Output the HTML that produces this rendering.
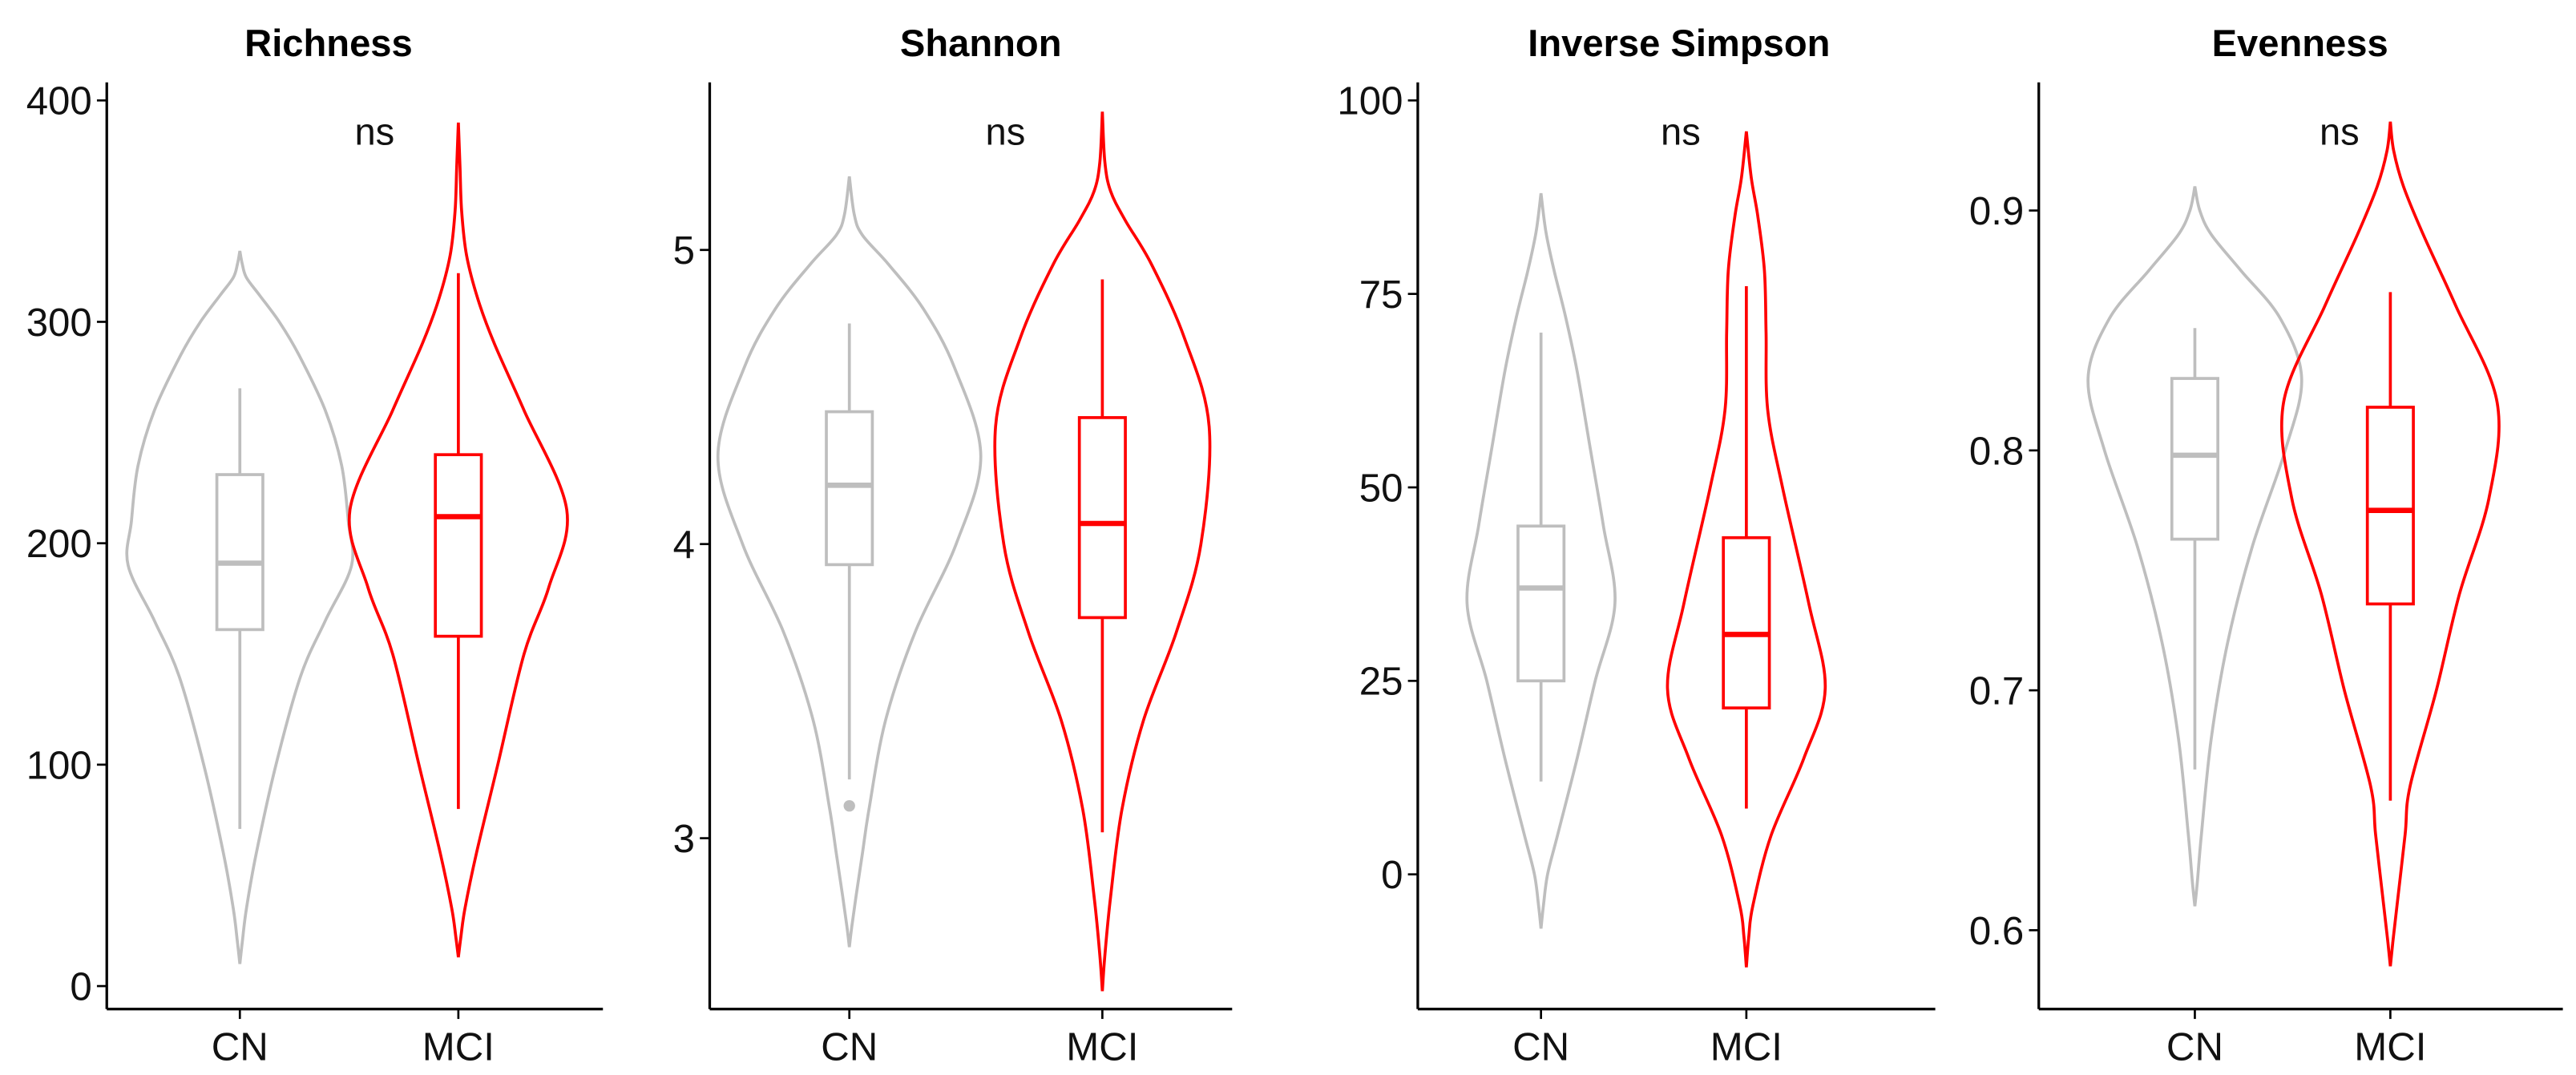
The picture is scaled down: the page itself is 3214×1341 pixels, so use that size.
<!DOCTYPE html>
<html><head><meta charset="utf-8"><style>
html,body{margin:0;padding:0;background:#fff}
svg{display:block}
text{font-family:"Liberation Sans",Arial,sans-serif}
</style></head><body>
<svg id="chart" width="3214" height="1341" viewBox="0 0 1568 654" xmlns="http://www.w3.org/2000/svg"></svg>
<script>
const panelTitles=["Richness","Shannon","Inverse Simpson","Evenness"];
const groups=["CN","MCI"];
const yTicks=[[0,100,200,300,400],[3,4,5],[0,25,50,75,100],[0.6,0.7,0.8,0.9]];
const tickLabels=[["0","100","200","300","400"],["3","4","5"],["0","25","50","75","100"],["0.6","0.7","0.8","0.9"]];
// violin densities: [value, relative width]
const violinCN=[
 [[10,0],[20,1.5],[35,4],[60,10],[100,22],[140,37],[165,52],[190,68],[210,66],[235,62],[260,52],[285,36],[300,24],[312,12],[320,4],[326,1.5],[332,0]],
 [[2.63,0],[2.7,1.5],[2.8,4],[2.95,8],[3.1,12],[3.4,22],[3.7,40],[4.0,65],[4.3,80],[4.6,64],[4.8,45],[4.95,24],[5.05,8],[5.12,3],[5.25,0]],
 [[-7,0],[-4,1.5],[0,4],[5,10],[15,22],[25,33],[35,45],[45,38],[55,30],[65,22],[72,15],[78,8],[83,3],[88,0]],
 [[0.61,0],[0.62,1.5],[0.64,4],[0.68,10],[0.72,20],[0.76,35],[0.80,55],[0.83,65],[0.855,52],[0.875,28],[0.89,10],[0.9,3],[0.91,0]]];
const violinMCI=[
 [[13,0],[22,1.5],[35,4],[60,11],[100,24],[150,40],[180,55],[215,66],[260,40],[290,22],[310,12],[330,5],[350,2],[370,1],[390,0]],
 [[2.48,0],[2.6,1.5],[2.8,5],[3.1,12],[3.4,25],[3.7,45],[4.0,60],[4.4,65],[4.7,50],[4.95,30],[5.1,14],[5.2,5],[5.3,1.5],[5.47,0]],
 [[-12,0],[-8,1.5],[-4,4],[5,15],[15,35],[24,48],[35,38],[50,22],[60,13],[70,12],[78,11],[85,7],[90,3],[96,0]],
 [[0.585,0],[0.595,1.5],[0.61,4],[0.64,9],[0.66,12],[0.70,28],[0.74,42],[0.78,60],[0.82,65],[0.86,40],[0.89,20],[0.91,8],[0.925,2],[0.937,0]]];
// box stats: [whiskerLow, q1, median, q3, whiskerHigh]
const boxCN=[[71,161,191,231,270],[3.2,3.93,4.2,4.45,4.75],[12,25,37,45,70],[0.667,0.763,0.798,0.83,0.851]];
const boxMCI=[[80,158,212,240,322],[3.02,3.75,4.07,4.43,4.9],[8.5,21.5,31,43.5,76],[0.654,0.736,0.775,0.818,0.866]];
const outliersCN=[[],[3.11],[],[]];
const outliersMCI=[[],[],[],[]];
const sigLabels=["ns","ns","ns","ns"];

const layout=[
 {ax:65,xr:367,t0:[0,600],t1:[400,61],cx:[146,279],tx:200,nx:228},
 {ax:432,xr:750,t0:[3,510],t1:[5,152],cx:[517,671],tx:597,nx:612},
 {ax:863,xr:1178,t0:[0,532],t1:[100,61],cx:[938,1063],tx:1022,nx:1023},
 {ax:1241,xr:1560,t0:[0.6,566],t1:[0.9,128],cx:[1336,1455],tx:1400,nx:1424}];
const svg=document.getElementById('chart');
const NS='http://www.w3.org/2000/svg';
function mk(tag,attrs,parent){const e=document.createElementNS(NS,tag);for(const k in attrs)e.setAttribute(k,attrs[k]);(parent||svg).appendChild(e);return e;}
function smooth(pts){let d='M'+pts[0][0]+','+pts[0][1];for(let i=0;i<pts.length-1;i++){const p0=pts[i-1]||pts[i],p1=pts[i],p2=pts[i+1],p3=pts[i+2]||p2;
 const c1=[p1[0]+(p2[0]-p0[0])/6,p1[1]+(p2[1]-p0[1])/6],c2=[p2[0]-(p3[0]-p1[0])/6,p2[1]-(p3[1]-p1[1])/6];
 d+=' C'+c1[0].toFixed(2)+','+c1[1].toFixed(2)+' '+c2[0].toFixed(2)+','+c2[1].toFixed(2)+' '+p2[0].toFixed(2)+','+p2[1].toFixed(2);}return d;}
const colors=["#BEBEBE","#FF0000"];
layout.forEach((L,p)=>{
 const y=v=>L.t0[1]+(v-L.t0[0])*(L.t1[1]-L.t0[1])/(L.t1[0]-L.t0[0]);
 const g=mk('g',{});
 
 
 const t=mk('text',{x:L.tx,y:34,'text-anchor':'middle','font-size':23,'font-weight':'bold'},g);t.textContent=panelTitles[p];
 
 const ya=mk('line',{x1:L.ax,y1:50,x2:L.ax,y2:614,stroke:'#000','stroke-width':1.6},g);
 
 const xa=mk('line',{x1:L.ax,y1:614,x2:L.xr,y2:614,stroke:'#000','stroke-width':1.6},g);
 
 yTicks[p].forEach((v,i)=>{mk('line',{x1:L.ax-6,x2:L.ax,y1:y(v),y2:y(v),stroke:'#000','stroke-width':1.3},g);
  const tl=mk('text',{x:L.ax-9,y:y(v)+8.5,'text-anchor':'end','font-size':24,fill:'#111'},g);tl.textContent=tickLabels[p][i];
  });
 groups.forEach((gname,j)=>{const cx=L.cx[j];
  mk('line',{x1:cx,x2:cx,y1:614,y2:620,stroke:'#000','stroke-width':1.3},g);
  const xl=mk('text',{x:cx,y:645,'text-anchor':'middle','font-size':24,fill:'#111'},g);xl.textContent=gname;
  
  const col=colors[j];const dens=(j?violinMCI:violinCN)[p];
  const right=dens.map(d=>[cx+d[1],y(d[0])]);const left=dens.slice().reverse().map(d=>[cx-d[1],y(d[0])]);
  const vp=mk('path',{d:smooth(right)+' '+smooth(left).replace('M','L')+'Z',fill:'none',stroke:col,'stroke-width':1.8},g);
  
  const b=(j?boxMCI:boxCN)[p];const bg=mk('g',{},g);
  
  mk('line',{x1:cx,x2:cx,y1:y(b[0]),y2:y(b[1]),stroke:col,'stroke-width':1.8},bg);
  mk('line',{x1:cx,x2:cx,y1:y(b[3]),y2:y(b[4]),stroke:col,'stroke-width':1.8},bg);
  mk('rect',{x:cx-14,y:y(b[3]),width:28,height:y(b[1])-y(b[3]),fill:'#fff',stroke:col,'stroke-width':1.8},bg);
  mk('line',{x1:cx-14,x2:cx+14,y1:y(b[2]),y2:y(b[2]),stroke:col,'stroke-width':3.2},bg);
  (j?outliersMCI:outliersCN)[p].forEach(o=>{const c=mk('circle',{cx:cx,cy:y(o),r:3.5,fill:col},bg);
   });
 });
 const ns=mk('text',{x:L.nx,y:88,'text-anchor':'middle','font-size':23,fill:'#111'},g);ns.textContent=sigLabels[p];
 
});
</script>
</body></html>
